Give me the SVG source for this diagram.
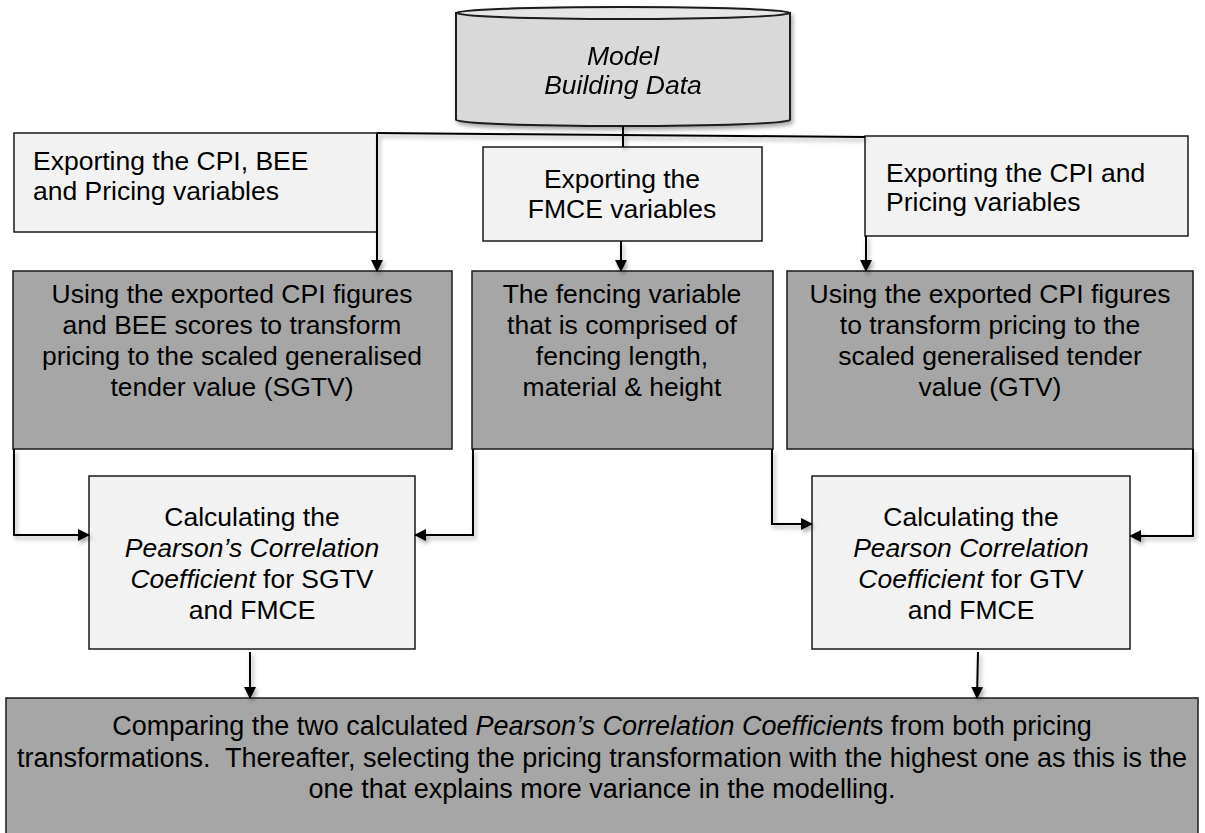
<svg xmlns="http://www.w3.org/2000/svg" width="1205" height="833" viewBox="0 0 1205 833">
<defs>
<marker id="arr" viewBox="0 0 12 12" refX="11" refY="6" markerWidth="12" markerHeight="12" markerUnits="userSpaceOnUse" orient="auto">
<path d="M0,0 L12,6 L0,12 Z" fill="#000"/>
</marker>
<filter id="sh" x="-10%" y="-10%" width="130%" height="130%">
<feDropShadow dx="2" dy="3" stdDeviation="2" flood-color="#000" flood-opacity="0.35"/>
</filter>
<style>
.light{fill:#f2f2f2;stroke:#1a1a1a;stroke-width:1.5}
.dark{fill:#a6a6a6;stroke:#1a1a1a;stroke-width:1.5}
.t{font-family:"Liberation Sans",Arial,sans-serif;font-size:26.5px;fill:#000}
.b{font-size:27px}
.c{text-anchor:middle}
.i{font-style:italic}
.conn{fill:none;stroke:#000;stroke-width:2}
</style>
</defs>
<rect width="1205" height="833" fill="#fff"/>

<g id="model-data" filter="url(#sh)">
<path d="M456,13 L456,120 A167,6 0 0 0 790,120 L790,13 Z" fill="#d9d9d9" stroke="#1a1a1a" stroke-width="2"/>
<ellipse cx="623" cy="13" rx="167" ry="6" fill="#e6e6e6" stroke="#1a1a1a" stroke-width="2"/>
<text class="t c i" x="623" y="65">Model</text>
<text class="t c i" x="623" y="94">Building Data</text>
</g>

<g id="export-left">
<rect class="light" x="14" y="133" width="363" height="99"/>
<text class="t" x="33" y="170">Exporting the CPI, BEE</text>
<text class="t" x="33" y="200">and Pricing variables</text>
</g>

<g id="export-mid">
<rect class="light" x="483" y="147" width="279" height="94"/>
<text class="t c" x="622" y="188">Exporting the</text>
<text class="t c" x="622" y="218">FMCE variables</text>
</g>

<g id="export-right">
<rect class="light" x="865" y="136" width="323" height="100"/>
<text class="t" x="886" y="182">Exporting the CPI and</text>
<text class="t" x="886" y="211">Pricing variables</text>
</g>

<g id="transform-left">
<rect class="dark" x="13" y="271" width="439" height="178"/>
<text class="t c" x="232" y="303">Using the exported CPI figures</text>
<text class="t c" x="232" y="334">and BEE scores to transform</text>
<text class="t c" x="232" y="365">pricing to the scaled generalised</text>
<text class="t c" x="232" y="396">tender value (SGTV)</text>
</g>

<g id="fencing">
<rect class="dark" x="472" y="271" width="301" height="178"/>
<text class="t c" x="622" y="303">The fencing variable</text>
<text class="t c" x="622" y="334">that is comprised of</text>
<text class="t c" x="622" y="365">fencing length,</text>
<text class="t c" x="622" y="396">material &amp; height</text>
</g>

<g id="transform-right">
<rect class="dark" x="787" y="271" width="406" height="178"/>
<text class="t c" x="990" y="303">Using the exported CPI figures</text>
<text class="t c" x="990" y="334">to transform pricing to the</text>
<text class="t c" x="990" y="365">scaled generalised tender</text>
<text class="t c" x="990" y="396">value (GTV)</text>
</g>

<g id="pearson-left">
<rect class="light" x="89" y="476" width="326" height="173"/>
<text class="t c" x="252" y="526">Calculating the</text>
<text class="t c i" x="252" y="557">Pearson’s Correlation</text>
<text class="t c" x="252" y="588"><tspan class="i">Coefficient</tspan> for SGTV</text>
<text class="t c" x="252" y="619">and FMCE</text>
</g>

<g id="pearson-right">
<rect class="light" x="812" y="476" width="318" height="173"/>
<text class="t c" x="971" y="526">Calculating the</text>
<text class="t c i" x="971" y="557">Pearson Correlation</text>
<text class="t c" x="971" y="588"><tspan class="i">Coefficient</tspan> for GTV</text>
<text class="t c" x="971" y="619">and FMCE</text>
</g>

<g id="compare">
<rect class="dark" x="6" y="698" width="1192" height="145"/>
<text class="t b c" x="602" y="735">Comparing the two calculated <tspan class="i">Pearson’s Correlation Coefficient</tspan>s from both pricing</text>
<text class="t b c" x="602" y="767">transformations.&#160; Thereafter, selecting the pricing transformation with the highest one as this is the</text>
<text class="t b c" x="602" y="798">one that explains more variance in the modelling.</text>
</g>

<g id="connectors" filter="url(#sh)">
<path class="conn" d="M623,126 L623,147"/>
<path class="conn" d="M377,133 L865,137"/>
<path class="conn" d="M377,133 L377,271" marker-end="url(#arr)"/>
<path class="conn" d="M621,241 L621,271" marker-end="url(#arr)"/>
<path class="conn" d="M866,236 L866,271" marker-end="url(#arr)"/>
<path class="conn" d="M14,449 L14,535 L89,535" marker-end="url(#arr)"/>
<path class="conn" d="M473,449 L473,535 L415,535" marker-end="url(#arr)"/>
<path class="conn" d="M772,449 L772,524 L812,524" marker-end="url(#arr)"/>
<path class="conn" d="M1193,449 L1193,536 L1130,536" marker-end="url(#arr)"/>
<path class="conn" d="M250,652 L250,698" marker-end="url(#arr)"/>
<path class="conn" d="M978,652 L977,698" marker-end="url(#arr)"/>
</g>
</svg>
